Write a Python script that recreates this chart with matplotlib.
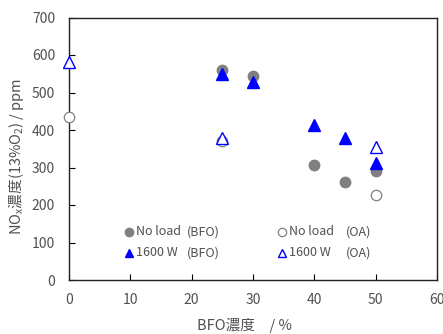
import matplotlib
matplotlib.use("Agg")
import matplotlib.pyplot as plt
from matplotlib.lines import Line2D

plt.rcParams['font.family'] = ['Noto Sans CJK JP', 'DejaVu Sans']
plt.rcParams['mathtext.default'] = 'regular'

# BFO blend series
bfo_x = [25, 30, 40, 45, 50]
noload_bfo = [560, 543, 307, 261, 290]
w1600_bfo = [550, 527, 414, 379, 311]

# OA reference series
oa_x = [0, 25, 50]
noload_oa = [436, 372, 226]
w1600_oa = [581, 378, 356]

xticks = [0, 10, 20, 30, 40, 50, 60]
yticks = [0, 100, 200, 300, 400, 500, 600, 700]

TXT = '#505050'
GRAY = '#808080'
BLUE = '#0000ff'

fig = plt.figure(figsize=(4.43, 3.34), dpi=100)
ax = fig.add_axes([69/443, 1 - 280/334, (437-69)/443, (280-17.5)/334])

ax.plot(bfo_x, noload_bfo, 'o', color=GRAY, ms=7.5, mec=GRAY, clip_on=False, zorder=3)
ax.plot(oa_x, noload_oa, 'o', mfc='white', mec=GRAY, mew=0.9, ms=7.5, clip_on=False, zorder=3)
ax.plot(bfo_x, w1600_bfo, '^', color=BLUE, ms=8, clip_on=False, zorder=4)
ax.plot(oa_x, w1600_oa, '^', mfc='white', mec=BLUE, mew=1.0, ms=8, clip_on=False, zorder=4)

ax.set_xlim(0, 60)
ax.set_ylim(0, 700)
ax.set_xticks(xticks)
ax.set_yticks(yticks)
ax.tick_params(direction='in', length=4, width=0.8, colors='black',
               labelcolor=TXT, labelsize=10)
ax.tick_params(axis='x', pad=9)
ax.tick_params(axis='y', pad=10)
for s in ax.spines.values():
    s.set_color('#222222')
    s.set_linewidth(1.0)

ax.set_ylabel('NO$_x$濃度(13%O$_2$) / ppm', color=TXT, fontsize=10.5)
ax.yaxis.set_label_coords(-0.118, 0.472)
ax.set_xlabel('BFO濃度　/ %', color=TXT, fontsize=10.5)
ax.xaxis.set_label_coords(0.478, -0.145)

# legend entries: marker + label, with fuel name in a separate column
entries = [
    (0.163, 0.183, dict(marker='o', color=GRAY, mec=GRAY), 'No load', '(BFO)', 0.321),
    (0.163, 0.103, dict(marker='^', color=BLUE, mec=BLUE), '1600 W', '(BFO)', 0.321),
    (0.578, 0.183, dict(marker='o', color='white', mec=GRAY, mew=0.9), 'No load', '(OA)', 0.752),
    (0.578, 0.103, dict(marker='^', color='white', mec=BLUE, mew=1.0), '1600 W', '(OA)', 0.752),
]
for mx, my, mk, lab, fuel, fx in entries:
    ax.add_line(Line2D([mx], [my], linestyle='none', ms=6, transform=ax.transAxes, **mk))
    ax.text(mx + 0.019, my, lab, transform=ax.transAxes, va='center', ha='left',
            fontsize=9, color=TXT)
    ax.text(fx, my, fuel, transform=ax.transAxes, va='center', ha='left',
            fontsize=9, color=TXT)

fig.savefig('out.png', dpi=100)
